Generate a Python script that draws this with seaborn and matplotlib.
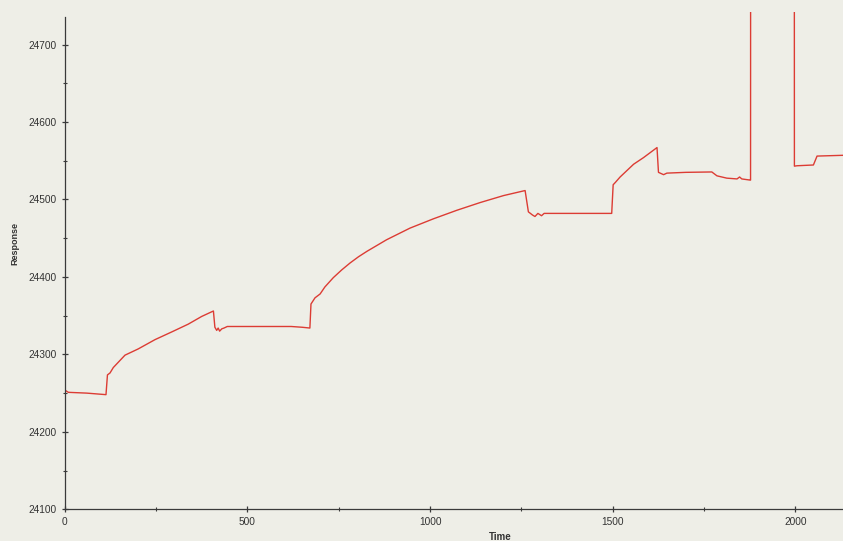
import matplotlib
matplotlib.use("Agg")
import matplotlib.pyplot as plt
from matplotlib.ticker import MultipleLocator
import numpy as np
import pandas as pd
import seaborn as sns

# Sensorgram: time (s) vs response (RU)
baseline_t = [0, 10, 60, 113]
baseline_r = [24254, 24251, 24250, 24248]

inject1_t = [117, 124, 133, 147, 165, 183, 201, 247, 293, 338, 375, 407]
inject1_r = [24273.5, 24276, 24283, 24290, 24299, 24303, 24307, 24319, 24329, 24339, 24349, 24356]

wash1_t = [411, 416, 420, 424, 430, 436, 445, 500, 560, 620, 650, 671]
wash1_r = [24335, 24331, 24334, 24330, 24333, 24334, 24336, 24336, 24336, 24336, 24335, 24334]

inject2_t = [674, 685, 699, 712, 735, 758, 781, 804, 827, 881, 945, 1009, 1073, 1137, 1201, 1260]
inject2_r = [24365, 24373, 24378, 24387, 24399, 24409, 24418, 24426, 24433, 24448, 24463,
             24475, 24486, 24496, 24505, 24511.5]

wash2_t = [1269, 1280, 1287, 1295, 1305, 1312, 1320, 1350, 1400, 1450, 1497]
wash2_r = [24484, 24480, 24478, 24482, 24479, 24482, 24482, 24482, 24482, 24482, 24482]

inject3_t = [1501, 1507, 1520, 1557, 1584, 1621]
inject3_r = [24519, 24522, 24529, 24545.5, 24554, 24567]

wash3_t = [1625, 1639, 1648, 1700, 1771, 1785, 1812, 1840, 1847, 1853, 1876]
wash3_r = [24535, 24532, 24534, 24535, 24535.5, 24530.5, 24527.5, 24526.5, 24529, 24526.5, 24525]

# regeneration pulse goes off scale
regen_t = [1877, 1878, 1996, 1997]
regen_r = [24525, 26000, 26000, 24543]

recovery_t = [2004, 2049, 2059, 2130]
recovery_r = [24543.5, 24544.5, 24556, 24557]

time = (baseline_t + inject1_t + wash1_t + inject2_t + wash2_t +
        inject3_t + wash3_t + regen_t + recovery_t)
response = (baseline_r + inject1_r + wash1_r + inject2_r + wash2_r +
            inject3_r + wash3_r + regen_r + recovery_r)
df = pd.DataFrame({"Time": time, "Response": response})

bg = "#eeeee7"
sns.set_style("ticks", {"axes.facecolor": bg, "figure.facecolor": bg})
plt.rcParams["font.family"] = ["Liberation Sans", "DejaVu Sans"]

fig = plt.figure(figsize=(8.43, 5.41), dpi=100)
ax = fig.add_axes([64.7 / 843, 31.7 / 541, 1 - 64.7 / 843, (509.3 - 12) / 541])

sns.lineplot(data=df, x="Time", y="Response", ax=ax, color="#dc3c34",
             linewidth=1.0, estimator=None, sort=False)

ax.set_xlim(0, 2130)
ax.set_ylim(24100, 24742)
ax.xaxis.set_major_locator(MultipleLocator(500))
ax.xaxis.set_minor_locator(MultipleLocator(250))
ax.yaxis.set_major_locator(MultipleLocator(100))
ax.yaxis.set_minor_locator(MultipleLocator(50))

for side in ("top", "right"):
    ax.spines[side].set_visible(False)
for side in ("left", "bottom"):
    ax.spines[side].set_color("#3a3a3a")
    ax.spines[side].set_linewidth(0.9)
ax.spines["left"].set_bounds(24100, 24735)

ax.tick_params(which="major", direction="inout", length=5, width=0.9,
               color="#3a3a3a", labelsize=7.3, labelcolor="#333333", pad=3)
ax.tick_params(which="minor", direction="inout", length=2.5, width=0.8,
               color="#3a3a3a")

ax.set_xlabel("Time", fontsize=7, fontweight="bold", color="#333333")
ax.set_ylabel("Response", fontsize=6.5, fontweight="bold", color="#333333")
ax.xaxis.set_label_coords(0.559, -0.045)
ax.yaxis.set_label_coords(-0.0587, 0.535)

fig.savefig("out.png", dpi=100, facecolor=bg)
